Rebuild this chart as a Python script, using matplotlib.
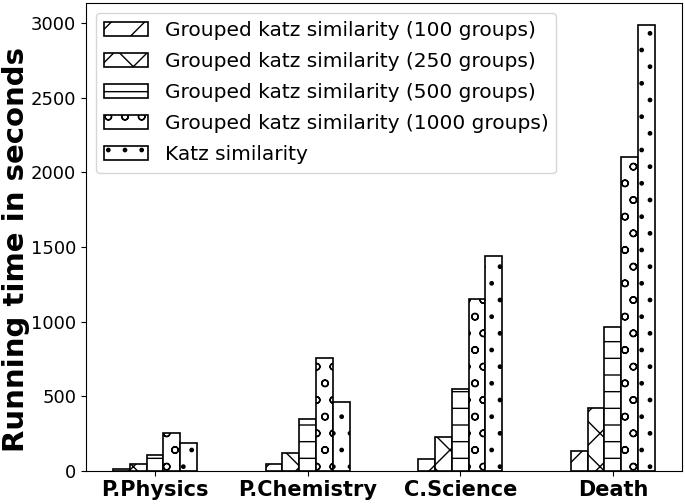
import matplotlib.pyplot as plt
import numpy as np

# categories and series values (seconds)
categories = ["P.Physics", "P.Chemistry", "C.Science", "Death"]
series_labels = [
    "Grouped katz similarity (100 groups)",
    "Grouped katz similarity (250 groups)",
    "Grouped katz similarity (500 groups)",
    "Grouped katz similarity (1000 groups)",
    "Katz similarity",
]
grouped_100 = [13, 47, 80, 134]
grouped_250 = [47, 118, 225, 423]
grouped_500 = [107, 345, 548, 965]
grouped_1000 = [256, 755, 1154, 2101]
katz = [183, 463, 1437, 2985]
hatches = ["/", "x", "-", "o", "."]

plt.rcParams["hatch.linewidth"] = 1.0

figure = plt.figure(figsize=(6.85, 5.04), dpi=100)
axe = figure.add_axes([0.1255, 0.066, 0.870, 0.928])

x = np.arange(len(categories))
width = 0.11
all_series = [grouped_100, grouped_250, grouped_500, grouped_1000, katz]
for i, (values, label, hatch) in enumerate(zip(all_series, series_labels, hatches)):
    axe.bar(x + (i - 2) * width, values, width, label=label, hatch=hatch,
            color="white", edgecolor="black", linewidth=1.2)

axe.set_xticks(x)
axe.set_xticklabels(categories, fontsize=15, fontweight="bold")
axe.tick_params(axis="y", labelsize=13)
axe.set_ylabel("Running time in seconds", fontsize=21, fontweight="bold")
axe.yaxis.set_label_coords(-0.094, 0.472)
axe.legend(loc="upper left", fontsize=14.5, handlelength=2.2, labelspacing=0.6)

figure.savefig("out.png", dpi=100)
